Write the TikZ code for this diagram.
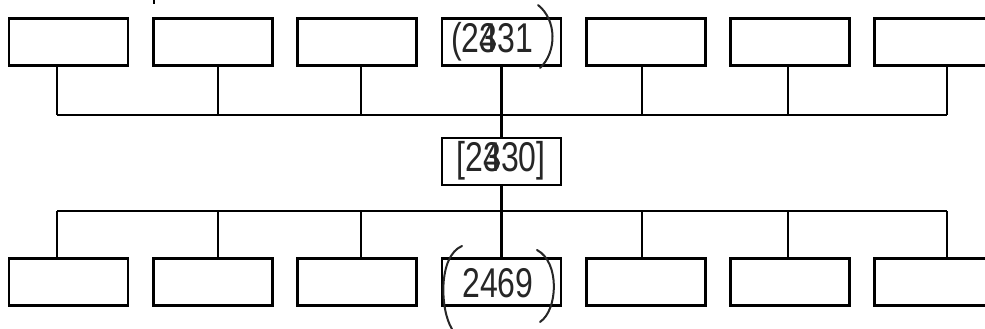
\documentclass[tikz,border=0pt]{standalone}
\usepackage{fontspec}
\setmainfont{Liberation Sans}
\usetikzlibrary{calc}
\begin{document}
\begin{tikzpicture}[x=1pt,y=-1pt,
  box/.style={draw=black,line width=2.8pt,minimum width=119pt,minimum height=47pt,inner sep=0pt,outer sep=0pt},
  wire/.style={draw=black,line width=2.8pt},
  pen/.style={draw=black!85,line width=2pt,line cap=round},
  hand/.style={font=\fontsize{32}{34}\selectfont,text=black!85,inner sep=0pt}]
\clip (0,0) rectangle (985,329);
\fill[white] (0,0) rectangle (985,329);
% boxes
\foreach \i/\x in {1/68.5,2/212.8,3/357.1,4/501.4,5/645.7,6/790,7/934.3}{
  \node[box] (t\i) at (\x,42) {};
  \node[box] (b\i) at (\x,282) {};
}
\node[box] (m) at (501.4,161.5) {};
% junction coordinates
\foreach \i/\x in {1/57,2/218,3/361,4/501.4,5/642,6/788,7/947}{
  \coordinate (j\i) at (\x,115);
  \coordinate (k\i) at (\x,211);
}
\draw[wire] (j1) -- (j7);
\draw[wire] (k1) -- (k7);
\foreach \i in {1,2,3,5,6,7}{
  \draw[wire] (t\i.south -| j\i) -- (j\i);
  \draw[wire] (k\i) -- (b\i.north -| k\i);
}
\draw[wire] (t4.south) -- (m.north);
\draw[wire] (m.south) -- (b4.north);
% stray tick at top
\draw[line width=1.5pt] (154,0) -- (154,4);
% handwritten labels
\node[hand,anchor=center] (lt) at (492,42) {\scalebox{1}[1.3]{(2\rlap{3}431}};
\draw[pen] (538,5) .. controls (557,20) and (557,52) .. (540,68);
\node[hand,anchor=center] (lm) at (501,161) {\scalebox{1}[1.3]{[2\rlap{3}430]}};
\node[hand,anchor=center] (lb) at (498,283) {\scalebox{1}[1.3]{2469}};
\draw[pen] (462,246) .. controls (438,256) and (440,310) .. (452,329);
\draw[pen] (537,250) .. controls (560,262) and (558,310) .. (540,322);
\end{tikzpicture}
\end{document}
